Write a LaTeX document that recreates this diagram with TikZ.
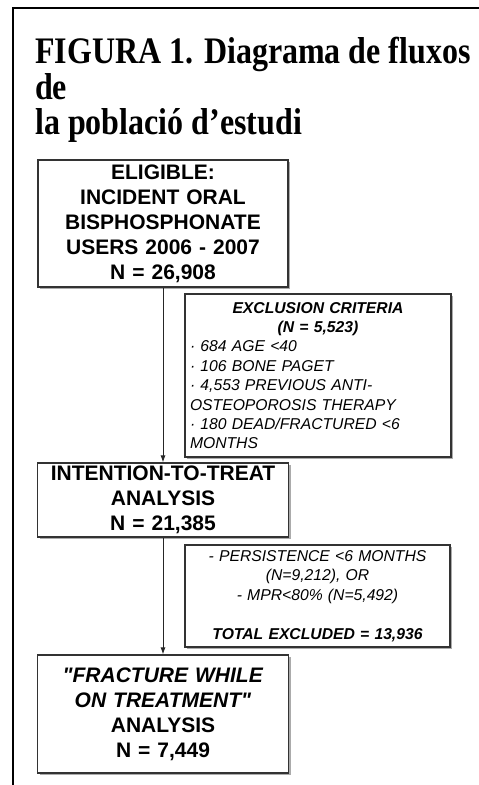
\documentclass[tikz,border=0pt]{standalone}
\usepackage{fontspec}
\setmainfont{Liberation Serif}
\newfontfamily\flowfont{Liberation Sans}
\usetikzlibrary{arrows.meta,shadows}

\tikzset{
  flowbox/.style={draw=black!80, line width=1.2pt, fill=white,
    inner xsep=5pt, inner ysep=0pt, align=center,
    drop shadow={shadow xshift=2pt, shadow yshift=-2pt, fill=black!55, opacity=0.6},
    font=\flowfont\fontsize{21}{25}\selectfont\bfseries},
  exclbox/.style={flowbox, font=\flowfont\fontsize{15.7}{19.4}\selectfont\itshape},
  flowarrow/.style={-{Latex[length=7pt,width=5pt]}, line width=0.9pt, draw=black!85}
}

\begin{document}
\begin{tikzpicture}[x=1pt, y=-1pt]
\useasboundingbox (0,0) rectangle (479,785);
\draw[line width=2pt] (13,785) -- (13,8) -- (479,8);

\begin{scope}[shift={(35,37)}, yscale=1.17]
\node[anchor=north west, inner sep=0pt, align=left, transform shape,
      font=\fontsize{32}{30.4}\selectfont\bfseries] (title) at (0,0)
  {FIGURA 1. Diagrama de fluxos\\de\\la població d’estudi};
\end{scope}

% main flow
\node[flowbox, text width=240pt, minimum height=127pt] (eligible) at (163,223.5)
  {ELIGIBLE:\\INCIDENT ORAL\\BISPHOSPHONATE\\USERS 2006 - 2007\\N = 26,908};
\node[flowbox, text width=241pt, minimum height=74pt] (itt) at (163,500)
  {INTENTION-TO-TREAT\\ANALYSIS\\N = 21,385};
\node[flowbox, text width=241pt, minimum height=118pt] (fwot) at (163,714)
  {\textit{"FRACTURE WHILE}\\\textit{ON TREATMENT"}\\ANALYSIS\\N = 7,449};

% exclusions
\node[exclbox, align=left, text width=256pt, minimum height=163pt] (excl) at (318,375.5)
  {{\centering\bfseries EXCLUSION CRITERIA\\(N = 5,523)\par}
   · 684 AGE <40\\
   · 106 BONE PAGET\\
   · 4,553 PREVIOUS ANTI-\\
   OSTEOPOROSIS THERAPY\\
   · 180 DEAD/FRACTURED <6\\
   MONTHS};
\node[exclbox, text width=255pt, minimum height=102pt] (persist) at (317.5,596)
  {- PERSISTENCE <6 MONTHS\\(N=9,212), OR\\- MPR<80\% (N=5,492)\\[19.4pt]
   \textbf{TOTAL EXCLUDED = 13,936}};

\draw[flowarrow] (eligible.south) -- (itt.north);
\draw[flowarrow] (itt.south) -- (fwot.north);
\end{tikzpicture}
\end{document}
